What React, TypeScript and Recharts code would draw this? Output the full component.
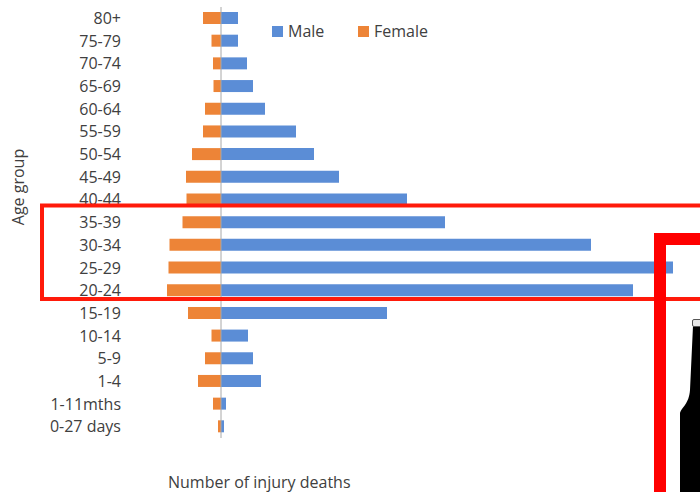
import { Bar, BarChart, Legend, ReferenceLine, XAxis, YAxis } from "recharts"

const ageGroups = [
  "80+", "75-79", "70-74", "65-69", "60-64", "55-59", "50-54", "45-49", "40-44", "35-39",
  "30-34", "25-29", "20-24", "15-19", "10-14", "5-9", "1-4", "1-11mths", "0-27 days",
]
const male = [17, 17, 26, 32, 44, 75, 93, 118, 186, 224, 370, 452, 412, 166, 27, 32, 40, 5, 3]
const female = [-18, -9.5, -8, -7.5, -16, -18, -29, -35, -34.5, -38.5, -51.5, -52.5, -54, -33, -9.5, -16, -23, -8, -3]

const chartData = ageGroups.map((age, i) => ({ age, male: male[i], female: female[i] }))

const MALE_COLOR = "#5b8dd6"
const FEMALE_COLOR = "#ed8437"
const TEXT_COLOR = "#404040"
const FONT = "'Open Sans', sans-serif"

function LegendRow() {
  const items = [
    { name: "Male", color: MALE_COLOR, left: 272 },
    { name: "Female", color: FEMALE_COLOR, left: 358 },
  ]
  return (
    <div style={{ position: "relative", height: 0 }}>
      {items.map((item) => (
        <div key={item.name} style={{ position: "absolute", left: item.left, top: 20, display: "flex", alignItems: "center", height: 22 }}>
          <span style={{ width: 11, height: 11, background: item.color, marginRight: 5 }} />
          <span style={{ fontSize: 16, color: TEXT_COLOR, fontFamily: FONT }}>{item.name}</span>
        </div>
      ))}
    </div>
  )
}

export default function App() {
  return (
    <div style={{ position: "absolute", left: 0, top: 0, width: 700, height: 492, overflow: "hidden", background: "#fff" }}>
      <BarChart
        width={700}
        height={492}
        data={chartData}
        layout="vertical"
        stackOffset="sign"
        margin={{ top: 7, right: 0, bottom: 54, left: 0 }}
      >
        <XAxis type="number" domain={[-100, 479]} hide />
        <YAxis
          type="category"
          dataKey="age"
          width={121}
          interval={0}
          axisLine={false}
          tickLine={false}
          tickSize={0}
          tickMargin={0}
          tick={{ fontSize: 16, fill: TEXT_COLOR, fontFamily: FONT }}
        />
        <Legend content={<LegendRow />} verticalAlign="top" wrapperStyle={{ left: 0, top: 0, width: 700 }} />
        <Bar dataKey="male" name="Male" stackId="a" barSize={12} fill={MALE_COLOR} isAnimationActive={false} />
        <Bar dataKey="female" name="Female" stackId="a" barSize={12} fill={FEMALE_COLOR} isAnimationActive={false} />
        <ReferenceLine x={0} stroke="#a8a8a8" strokeWidth={1} />
        <text x={24} y={187} transform="rotate(-90 24 187)" textAnchor="middle" fontSize={16} fill={TEXT_COLOR} fontFamily={FONT}>
          Age group
        </text>
        <text x={168} y={488} fontSize={16} fill={TEXT_COLOR} fontFamily={FONT}>
          Number of injury deaths
        </text>
      </BarChart>

      {/* annotations pasted over the chart */}
      <svg width={700} height={492} style={{ position: "absolute", left: 0, top: 0 }}>
        <rect x={42} y={205.5} width={700} height={93.5} fill="none" stroke="#ff1a0a" strokeWidth={4} />
        <rect x={660} y={239} width={100} height={300} fill="none" stroke="#ff0000" strokeWidth={12} />
        <path d="M693 326 L700 326 L700 492 L680 492 L680 413 C682 407 689 404 690 390 Z" fill="#000" />
        <rect x={692.5} y={319.5} width={9} height={7} rx={1.5} fill="#e8e8e8" stroke="#555" strokeWidth={1} />
      </svg>
    </div>
  )
}
